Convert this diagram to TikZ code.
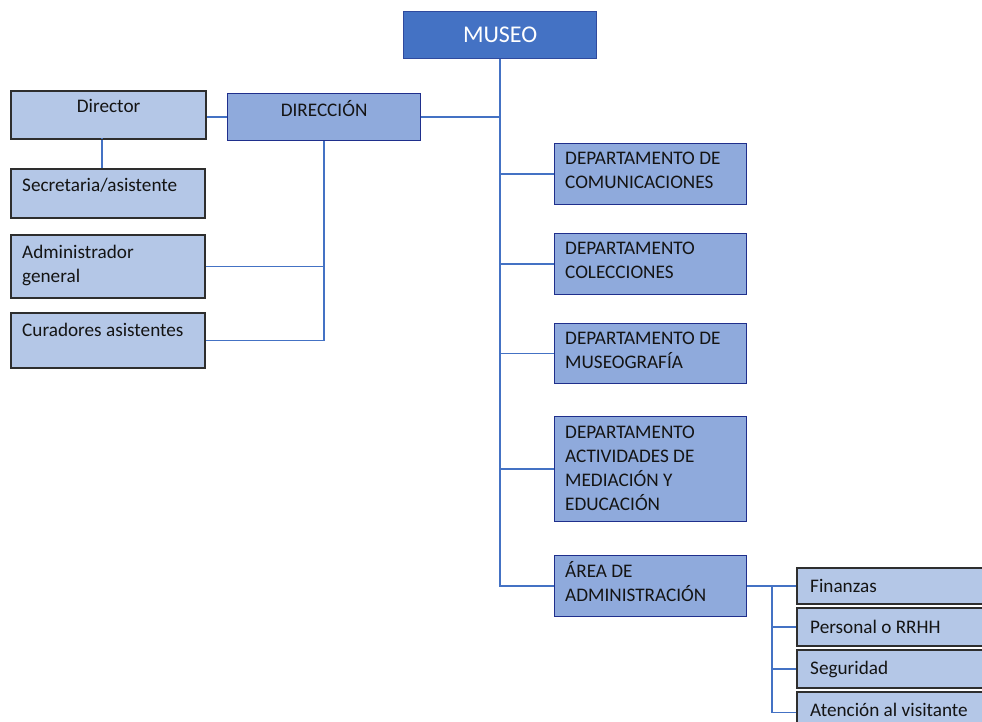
\documentclass[tikz,border=0pt]{standalone}
\usepackage{fontspec}
\setmainfont{Carlito}
\definecolor{museoblue}{HTML}{4472C4}
\definecolor{museoedge}{HTML}{2F4A9E}
\definecolor{deptblue}{HTML}{8FAADC}
\definecolor{deptedge}{HTML}{1F2F8C}
\definecolor{staffblue}{HTML}{B4C7E7}
\definecolor{staffedge}{HTML}{2E2E2E}
\definecolor{linkblue}{HTML}{4472C4}
\begin{document}
\begin{tikzpicture}[x=1pt,y=-1pt,
    topbox/.style={draw=museoedge,fill=museoblue,line width=1.2pt,anchor=north west,inner sep=0pt},
    deptbox/.style={draw=deptedge,fill=deptblue,line width=1.2pt,anchor=north west,inner sep=0pt,minimum width=192pt},
    staffbox/.style={draw=staffedge,fill=staffblue,line width=1.2pt,anchor=north west,inner sep=0pt},
    boxtext/.style={font=\fontsize{19.2}{24}\selectfont,text=black!92,align=left,inner sep=0pt,anchor=base west},
    link/.style={draw=linkblue,line width=1.4pt}]
    \clip (0,0) rectangle (982,721);
    \fill[white] (0,0) rectangle (982,721);

    % top and direction
    \node[topbox,minimum width=193pt,minimum height=47pt] (museo) at (403,11) {};
    \node[font=\fontsize{24}{28}\selectfont,text=white,inner sep=0pt] (museoT) at (museo.center) {MUSEO};
    \node[deptbox,minimum width=193pt,minimum height=47pt] (direc) at (227,93) {};
    \node[boxtext,anchor=base] (direcT) at ([yshift=-23pt]direc.north) {DIRECCIÓN};

    % staff on the left (base of a multi-line text is its last line)
    \node[staffbox,minimum width=194pt,minimum height=47pt] (dir) at (11,91) {};
    \node[boxtext,anchor=base] (dirT) at ([yshift=-21pt]dir.north) {Director};
    \node[staffbox,minimum width=193pt,minimum height=48pt] (secr) at (11,169) {};
    \node[boxtext] (secrT) at ([shift={(11pt,-22pt)}]secr.north west) {Secretaria/asistente};
    \node[staffbox,minimum width=193pt,minimum height=62pt] (adm) at (11,235) {};
    \node[boxtext] (admT) at ([shift={(11pt,-47pt)}]adm.north west) {Administrador\\general};
    \node[staffbox,minimum width=193pt,minimum height=54pt] (cur) at (11,313) {};
    \node[boxtext] (curT) at ([shift={(11pt,-23pt)}]cur.north west) {Curadores asistentes};

    % departments
    \node[deptbox,minimum height=61pt] (dcom) at (554,143) {};
    \node[boxtext] (dcomT) at ([shift={(11pt,-45pt)}]dcom.north west) {DEPARTAMENTO DE\\COMUNICACIONES};
    \node[deptbox,minimum height=61pt] (dcol) at (554,233) {};
    \node[boxtext] (dcolT) at ([shift={(11pt,-45pt)}]dcol.north west) {DEPARTAMENTO\\COLECCIONES};
    \node[deptbox,minimum height=60pt] (dmus) at (554,323) {};
    \node[boxtext] (dmusT) at ([shift={(11pt,-45pt)}]dmus.north west) {DEPARTAMENTO DE\\MUSEOGRAFÍA};
    \node[deptbox,minimum height=105pt] (dact) at (554,416) {};
    \node[boxtext] (dactT) at ([shift={(11pt,-94pt)}]dact.north west) {DEPARTAMENTO\\ACTIVIDADES DE\\MEDIACIÓN Y\\EDUCACIÓN};
    \node[deptbox,minimum height=61pt] (area) at (554,555) {};
    \node[boxtext] (areaT) at ([shift={(11pt,-46pt)}]area.north west) {ÁREA DE\\ADMINISTRACIÓN};

    % administration units
    \node[staffbox,minimum width=200pt,minimum height=35pt] (fin) at (797,568) {};
    \node[boxtext] (finT) at ([shift={(13pt,-24pt)}]fin.north west) {Finanzas};
    \node[staffbox,minimum width=200pt,minimum height=37pt] (pers) at (797,608) {};
    \node[boxtext] (persT) at ([shift={(13pt,-25pt)}]pers.north west) {Personal o RRHH};
    \node[staffbox,minimum width=200pt,minimum height=37pt] (seg) at (797,650) {};
    \node[boxtext] (segT) at ([shift={(13pt,-24pt)}]seg.north west) {Seguridad};
    \node[staffbox,minimum width=200pt,minimum height=40pt] (aten) at (797,692) {};
    \node[boxtext] (atenT) at ([shift={(13pt,-24pt)}]aten.north west) {Atención al visitante};
    \coordinate (abus) at (772,586);

    % connectors
    \draw[link] (museo.south) -- (museo.south |- area.west) -- (area.west);
    \draw[link] (direc.east) -- (museo.south |- direc.east);
    \foreach \d in {dcom,dcol,dmus,dact} \draw[link] (museo.south |- \d.west) -- (\d.west);
    \draw[link] (dir.east |- direc.west) -- (direc.west);
    \draw[link] (102,138) -- (102,169);
    \draw[link] (direc.south) -- (direc.south |- cur.east) -- (cur.east);
    \draw[link] (direc.south |- adm.east) -- (adm.east);
    \draw[link] (area.east) -- (fin.west);
    \draw[link] (abus) -- (abus |- aten.west) -- (aten.west);
    \foreach \u in {pers,seg} \draw[link] (abus |- \u.west) -- (\u.west);

    % redraw box borders over link ends
    \foreach \b in {dir,secr,adm,cur,fin,pers,seg,aten} \draw[staffedge,line width=1.2pt] (\b.north west) rectangle (\b.south east);
\end{tikzpicture}
\end{document}
